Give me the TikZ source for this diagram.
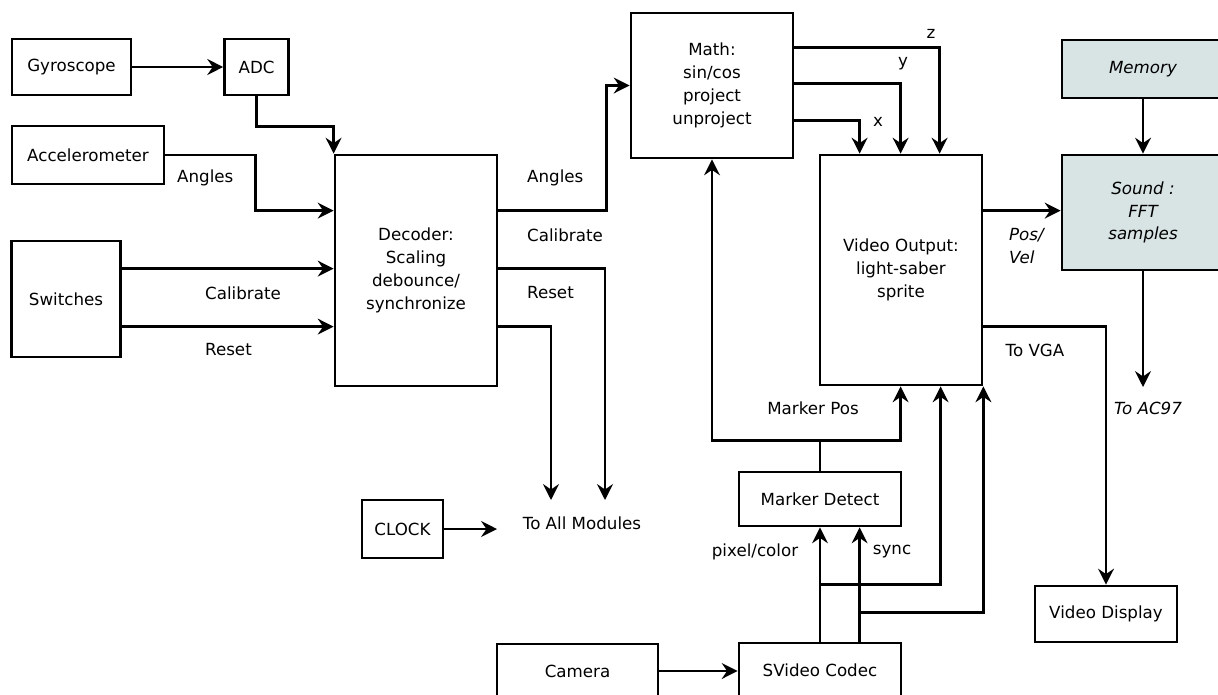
\documentclass[tikz,border=0pt]{standalone}
\usepackage{fontspec}
\setmainfont{DejaVu Sans}
\usetikzlibrary{arrows.meta, calc}
\definecolor{soundfill}{RGB}{216,228,228}

\begin{document}
\begin{tikzpicture}[x=0.02cm, y=-0.02cm, font=\fontsize{9.5}{13}\selectfont,
    >={Stealth[length=9pt,width=9pt,inset=3pt]}, line width=1.6pt,
    block/.style={draw, rectangle, align=center, inner sep=2pt},
    lbl/.style={inner sep=1pt}]

    \useasboundingbox (0,0) rectangle (1218,694);
    \clip (0,0) rectangle (1218,694);

    % Sensor blocks
    \node[block, minimum width=2.38cm, minimum height=1.12cm] (gyro) at (71.5,67) {Gyroscope};
    \node[block, minimum width=1.28cm, minimum height=1.12cm] (adc) at (256.6,67) {ADC};
    \node[block, minimum width=3.04cm, minimum height=1.16cm] (accel) at (88,155) {Accelerometer};
    \node[block, minimum width=2.18cm, minimum height=2.32cm] (switches) at (66,299) {Switches};
    \node[block, minimum width=1.62cm, minimum height=1.16cm] (clock) at (402.5,529) {CLOCK};

    % Processing blocks
    \node[block, minimum width=3.24cm, minimum height=4.62cm] (decoder) at (416,270.5)
        {Decoder:\\Scaling\\debounce/\\synchronize};
    \node[block, minimum width=3.24cm, minimum height=2.9cm] (math) at (712,85.5)
        {Math:\\sin/cos\\project\\unproject};
    \node[block, minimum width=3.24cm, minimum height=4.6cm] (video) at (901,270)
        {Video Output:\\light-saber\\sprite};
    \node[block, fill=soundfill, minimum width=3.24cm, minimum height=1.16cm] (memory) at (1143,69)
        {\itshape Memory};
    \node[block, fill=soundfill, minimum width=3.24cm, minimum height=2.3cm] (sound) at (1143,212.5)
        {\itshape Sound :\\\itshape FFT\\\itshape samples};
    \node[block, minimum width=3.24cm, minimum height=1.08cm] (markerdet) at (820,499) {Marker Detect};
    \node[block, minimum width=3.24cm, minimum height=1.08cm] (svideo) at (820,670) {SVideo Codec};
    \node[block, minimum width=3.22cm, minimum height=1.08cm] (camera) at (577.5,671) {Camera};
    \node[block, minimum width=2.84cm, minimum height=1.12cm] (vdisp) at (1106,614) {Video Display};

    % Wire labels
    \node[lbl, anchor=west] (angin) at (174,178) {Angles};
    \node[lbl, anchor=west] (calin) at (202,293) {Calibrate};
    \node[lbl, anchor=west] (rstin) at (202,350) {Reset};
    \node[lbl, anchor=west] (angout) at (524,178) {Angles};
    \node[lbl, anchor=west] (calout) at (524,235) {Calibrate};
    \node[lbl, anchor=west] (rstout) at (524,293) {Reset};
    \node[lbl] (allmod) at (582,523) {To All Modules};
    \node[lbl] (zl) at (931,34) {z};
    \node[lbl] (yl) at (903,64) {y};
    \node[lbl] (xl) at (878,122) {x};
    \node[lbl] (mpos) at (813,408) {Marker Pos};
    \node[lbl] (pixl) at (755,552) {pixel/color};
    \node[lbl] (syncl) at (892,552) {sync};
    \node[lbl, anchor=west, align=left] (posvel) at (1006,246) {\itshape Pos/\\\itshape Vel};
    \node[lbl] (vgal) at (1035,350) {To VGA};
    \node[lbl] (acl) at (1148,408) {\itshape To AC97};

    % Free wire ends
    \coordinate (ta1) at (551,500);
    \coordinate (ta2) at (605,500);
    \coordinate (ta3) at (497,529);
    \coordinate (ac) at (1143,387);

    % Inputs to decoder
    \draw[->] (gyro) -- (adc);
    \draw[->] (adc.south) -- ++(0,30) -| (decoder.north west);
    \draw[->] (accel.east) -- ++(90,0) |- ($(decoder.north west)+(0,57)$);
    \draw[->] ($(switches.north east)+(0,29)$) coordinate (sw1) -- (sw1 -| decoder.west);
    \draw[->] ($(switches.north east)+(0,87)$) coordinate (sw2) -- (sw2 -| decoder.west);

    % Decoder outputs
    \draw[->] ($(decoder.north east)+(0,57)$) -- ++(108,0) |- (math.west);
    \draw[->] ($(decoder.north east)+(0,115)$) -| (ta2);
    \draw[->] ($(decoder.north east)+(0,173)$) -| (ta1);
    \draw[->] (clock) -- (ta3);

    % Math to video output
    \draw[->] ($(math.north east)+(0,36)$) -| ($(video.north west)+(121,0)$);
    \draw[->] ($(math.north east)+(0,72)$) -| ($(video.north west)+(82,0)$);
    \draw[->] ($(math.north east)+(0,109)$) -| ($(video.north west)+(41,0)$);

    % Marker position
    \draw[->] (markerdet.north) -- ++(0,-30) coordinate (mp) -| (math.south);
    \draw[->] (mp) -| ($(video.south west)+(82,0)$);

    % Camera path
    \draw[->] (camera) -- (camera -| svideo.west);
    \draw[->] (svideo.north) -- (markerdet.south);
    \draw[->] ($(svideo.north west)+(122,0)$) coordinate (sy) -- (sy |- markerdet.south);
    \draw[->] ($(svideo.north)+(0,-57)$) -| ($(video.south west)+(122,0)$);
    \draw[->] ($(svideo.north west)+(122,-29)$) -| (video.south east);

    % Video output and sound
    \draw[->] ($(video.north east)+(0,57)$) coordinate (vs) -- (vs -| sound.west);
    \draw[->] ($(video.north east)+(0,173)$) -| (vdisp.north);
    \draw[->] (memory) -- (sound);
    \draw[->] (sound) -- (ac);

\end{tikzpicture}
\end{document}
